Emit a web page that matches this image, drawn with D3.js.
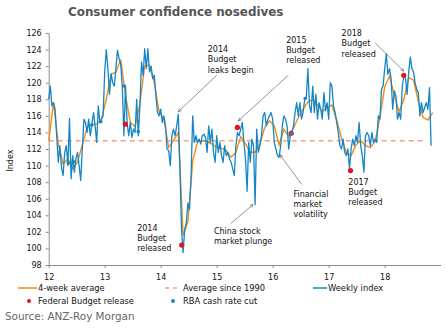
<!DOCTYPE html>
<html>
<head>
<meta charset="utf-8">
<script src="https://cdn.jsdelivr.net/npm/d3@7"></script>
<style>
  body { margin: 0; background: #fff; }
  text { font-family: "DejaVu Sans", Verdana, sans-serif; }
</style>
</head>
<body>
<div id="chart"></div>
<script>
// weekly index, one reading every 1/35 of a year starting Jan 2012
var weeklyStart = 12, weeklyStep = 1 / 35;
var weeklyIndex = [
  118.0, 119.6, 117.2, 117.6, 116.8, 113.6, 110.4, 112.4, 109.8, 108.8,
  111.6, 112.4, 110.0, 115.7, 108.4, 111.2, 109.2, 110.8, 111.6, 110.0,
  108.2, 112.0, 115.6, 115.2, 114.0, 115.6, 113.6, 115.0, 116.4, 114.8,
  112.8, 117.2, 115.2, 115.6, 116.0, 121.3, 124.0, 121.7, 118.6, 121.1,
  120.0, 119.6, 121.7, 123.9, 122.9, 122.3, 119.6, 113.6, 119.6, 115.2,
  113.6, 115.2, 113.4, 114.4, 114.0, 118.0, 113.6, 117.2, 122.5, 120.9,
  124.1, 121.7, 124.1, 121.3, 122.0, 120.5, 120.9, 118.4, 116.4, 116.0,
  116.8, 115.2, 116.0, 114.8, 112.0, 111.8, 110.0, 113.6, 114.4, 113.6,
  114.8, 116.2, 110.0, 102.3, 99.5, 102.3, 103.1, 105.5, 104.7, 108.8,
  116.0, 112.8, 113.6, 112.8, 113.2, 112.6, 113.6, 113.8, 113.4, 111.6,
  114.8, 112.8, 114.4, 111.6, 110.4, 113.6, 111.6, 112.8, 111.2, 110.4,
  112.4, 111.2, 111.6, 110.8, 110.4, 109.6, 108.8, 112.4, 114.0, 113.6,
  114.4, 115.2, 112.8, 110.8, 106.9, 112.8, 110.4, 113.2, 112.4, 105.3,
  114.4, 111.6, 112.4, 113.6, 116.0, 116.4, 114.8, 115.6, 116.0, 116.4,
  115.6, 112.8, 112.0, 111.2, 111.0, 112.4, 114.8, 116.0, 115.6, 114.8,
  112.0, 113.6, 114.0, 114.8, 116.4, 117.6, 116.0, 117.6, 115.6, 116.4,
  118.0, 118.2, 121.7, 117.2, 116.4, 119.6, 116.4, 118.6, 115.6, 117.6,
  116.8, 115.6, 118.8, 116.6, 117.6, 115.6, 120.0, 119.6, 117.2, 116.4,
  115.2, 114.0, 112.4, 112.0, 113.2, 111.6, 111.2, 112.0, 109.6, 112.0,
  113.2, 112.4, 113.6, 112.8, 115.2, 112.4, 111.2, 109.2, 113.6, 114.0,
  113.6, 112.4, 114.0, 112.8, 113.2, 112.8, 116.0, 115.6, 119.2, 119.6,
  121.7, 123.5, 121.0, 121.7, 120.5, 116.8, 119.0, 118.4, 115.6, 116.4,
  115.6, 119.6, 120.9, 120.5, 118.6, 121.3, 123.1, 121.7, 121.3, 120.0,
  119.2, 118.8, 116.0, 117.6, 116.4, 117.0, 117.6, 116.8, 119.4, 112.4
];

// 4-week average, one reading every 3/35 of a year
var avgStep = 3 / 35;
var fourWeekAvg = [
  113.0, 117.6, 112.6, 110.2, 110.8, 109.6, 110.4, 112.5, 114.6, 115.0,
  115.0, 115.6, 118.0, 121.0, 121.3, 122.8, 118.5, 115.2, 114.7, 117.5,
  122.0, 122.1, 120.0, 116.5, 115.6, 112.2, 113.0, 114.0, 101.6, 103.2,
  110.5, 112.9, 113.0, 112.9, 112.6, 112.2, 112.1, 111.8, 111.0, 111.6,
  113.5, 112.6, 111.6, 111.6, 112.6, 114.6, 115.4, 114.8, 112.5, 114.4,
  113.5, 114.5, 115.8, 116.8, 117.7, 118.0, 117.3, 116.5, 117.0, 117.3,
  115.5, 113.3, 111.6, 111.2, 112.5, 113.0, 112.4, 112.2, 112.9, 115.8,
  119.5, 120.8, 118.5, 116.5, 118.0, 120.6, 120.3, 117.8, 115.8, 115.5,
  116.4
];

var avgSince1990 = 113.0;
var avgSpan = [12, 18.75];

var budgetYears = [13.37, 14.375, 15.37, 16.33, 17.39, 18.34];
var budgetValues = [115.0, 100.4, 114.6, 113.9, 109.4, 120.9];

var rbaYears = [12.35, 12.44, 12.77, 12.93, 13.35, 13.6, 16.33, 16.58];
var rbaValues = [110.3, 110.5, 114.9, 115.3, 119.6, 114.1, 113.9, 118.1];

var yTicks = d3.range(98, 127, 2);
var xTicks = [12, 13, 14, 15, 16, 17, 18];

var W = 446, H = 330;
var svg = d3.select("#chart").append("svg")
  .attr("width", W).attr("height", H);

var x = d3.scaleLinear().domain([12, 19]).range([48.7, 440.7]);
var y = d3.scaleLinear().domain([98, 126]).range([265, 33]);

var blue = "#1486c6", orange = "#f28c12", red = "#e8141c", axisCol = "#8c8c8c";

// title
svg.append("text")
  .attr("x", 68).attr("y", 16)
  .attr("font-size", 11.9).attr("font-weight", "bold")
  .attr("fill", "#555")
  .text("Consumer confidence nosedives");

// axes
var yAxis = svg.append("g")
  .attr("transform", "translate(" + x(12) + ",0)")
  .call(d3.axisLeft(y).tickValues(yTicks).tickSize(3).tickPadding(4));
var xAxis = svg.append("g")
  .attr("transform", "translate(0," + y(98) + ")")
  .call(d3.axisBottom(x).tickValues(xTicks).tickFormat(d3.format("d"))
    .tickSize(3).tickPadding(6).tickSizeOuter(0));
[yAxis, xAxis].forEach(function(a) {
  a.select(".domain").attr("stroke", axisCol);
  a.selectAll(".tick line").attr("stroke", axisCol);
  a.selectAll("text").attr("font-size", 8).attr("fill", "#111")
    .attr("font-family", "DejaVu Sans, Verdana, sans-serif");
});

svg.append("text")
  .attr("transform", "translate(13," + y(110.6) + ") rotate(-90)")
  .attr("text-anchor", "middle")
  .attr("font-size", 8).attr("fill", "#111")
  .text("Index");

// average since 1990
svg.append("line")
  .attr("x1", x(avgSpan[0])).attr("x2", x(avgSpan[1]))
  .attr("y1", y(avgSince1990)).attr("y2", y(avgSince1990))
  .attr("stroke", "#f4a08c").attr("stroke-width", 1.5)
  .attr("stroke-dasharray", "5,4");

var weekly = weeklyIndex.map(function(v, i) { return [weeklyStart + i * weeklyStep, v]; });
var avg = fourWeekAvg.map(function(v, i) { return [weeklyStart + i * avgStep, v]; });

var line = d3.line()
  .x(function(d) { return x(d[0]); })
  .y(function(d) { return y(d[1]); });

svg.append("path").datum(avg)
  .attr("d", line).attr("fill", "none")
  .attr("stroke", orange).attr("stroke-width", 1.4);

svg.append("path").datum(weekly)
  .attr("d", line).attr("fill", "none")
  .attr("stroke", blue).attr("stroke-width", 1.3)
  .attr("stroke-linejoin", "round");

// markers
svg.selectAll(".budget")
  .data(budgetYears)
  .enter().append("circle")
    .attr("cx", function(d) { return x(d); })
    .attr("cy", function(d, i) { return y(budgetValues[i]); })
    .attr("r", 2.6).attr("fill", red);

svg.selectAll(".rba")
  .data(rbaYears)
  .enter().append("circle")
    .attr("cx", function(d) { return x(d); })
    .attr("cy", function(d, i) { return y(rbaValues[i]); })
    .attr("r", 1.8).attr("fill", blue);

// annotations, anchored in data units
var defs = svg.append("defs");
defs.append("marker")
  .attr("id", "arr").attr("viewBox", "0 0 8 8")
  .attr("refX", 7).attr("refY", 4)
  .attr("markerWidth", 6).attr("markerHeight", 6)
  .attr("orient", "auto")
  .append("path").attr("d", "M1,1 L7,4 L1,7")
  .attr("fill", "none").attr("stroke", "#555").attr("stroke-width", 1);

var notes = [
  {t: 14.84, v: 124.07, lines: ["2014", "Budget", "leaks begin"], from: [15.0, 120.9], to: [14.314, 116.5]},
  {t: 16.24, v: 125.2, lines: ["2015", "Budget", "released"], from: [16.28, 120.9], to: [15.386, 115.4]},
  {t: 17.23, v: 126.0, lines: ["2018", "Budget", "released"], from: [17.83, 124.8], to: [18.34, 121.4]},
  {t: 13.58, v: 102.5, lines: ["2014", "Budget", "released"]},
  {t: 14.95, v: 102.1, lines: ["China stock", "market plunge"], from: [15.25, 103.0], to: [15.65, 105.3]},
  {t: 16.37, v: 106.6, lines: ["Financial", "market", "volatility"], from: [16.52, 107.7], to: [16.13, 111.3]},
  {t: 17.35, v: 108.05, lines: ["2017", "Budget", "released"]}
];

notes.forEach(function(n) {
  var txt = svg.append("text")
    .attr("x", x(n.t)).attr("y", y(n.v))
    .attr("font-size", 8).attr("fill", "#111")
    .attr("dominant-baseline", "middle");
  n.lines.forEach(function(s, i) {
    txt.append("tspan").attr("x", x(n.t)).attr("dy", i ? 10.3 : 0).text(s);
  });
  if (n.from) {
    svg.append("line")
      .attr("x1", x(n.from[0])).attr("y1", y(n.from[1]))
      .attr("x2", x(n.to[0])).attr("y2", y(n.to[1]))
      .attr("stroke", "#666").attr("stroke-width", 0.7)
      .attr("marker-end", "url(#arr)");
  }
});

// legend
var lg = svg.append("g").attr("font-size", 8.3).attr("fill", "#111");
lg.append("line").attr("x1", 18).attr("x2", 37).attr("y1", 288).attr("y2", 288)
  .attr("stroke", orange).attr("stroke-width", 1.5);
lg.append("text").attr("x", 38).attr("y", 288).attr("dominant-baseline", "middle").text("4-week average");
lg.append("line").attr("x1", 165).attr("x2", 180).attr("y1", 288).attr("y2", 288)
  .attr("stroke", "#f4a08c").attr("stroke-width", 1.5).attr("stroke-dasharray", "4,4");
lg.append("text").attr("x", 183).attr("y", 288).attr("dominant-baseline", "middle").text("Average since 1990");
lg.append("line").attr("x1", 313).attr("x2", 327).attr("y1", 288).attr("y2", 288)
  .attr("stroke", blue).attr("stroke-width", 1.5);
lg.append("text").attr("x", 328).attr("y", 288).attr("dominant-baseline", "middle").text("Weekly index");
lg.append("circle").attr("cx", 29).attr("cy", 301).attr("r", 2).attr("fill", red);
lg.append("text").attr("x", 38).attr("y", 301).attr("dominant-baseline", "middle").text("Federal Budget release");
lg.append("circle").attr("cx", 173).attr("cy", 301).attr("r", 2).attr("fill", blue);
lg.append("text").attr("x", 183).attr("y", 301).attr("dominant-baseline", "middle").text("RBA cash rate cut");

svg.append("text")
  .attr("x", 5).attr("y", 317)
  .attr("dominant-baseline", "middle")
  .attr("font-size", 10.4).attr("fill", "#666")
  .text("Source: ANZ-Roy Morgan");
</script>
</body>
</html>
